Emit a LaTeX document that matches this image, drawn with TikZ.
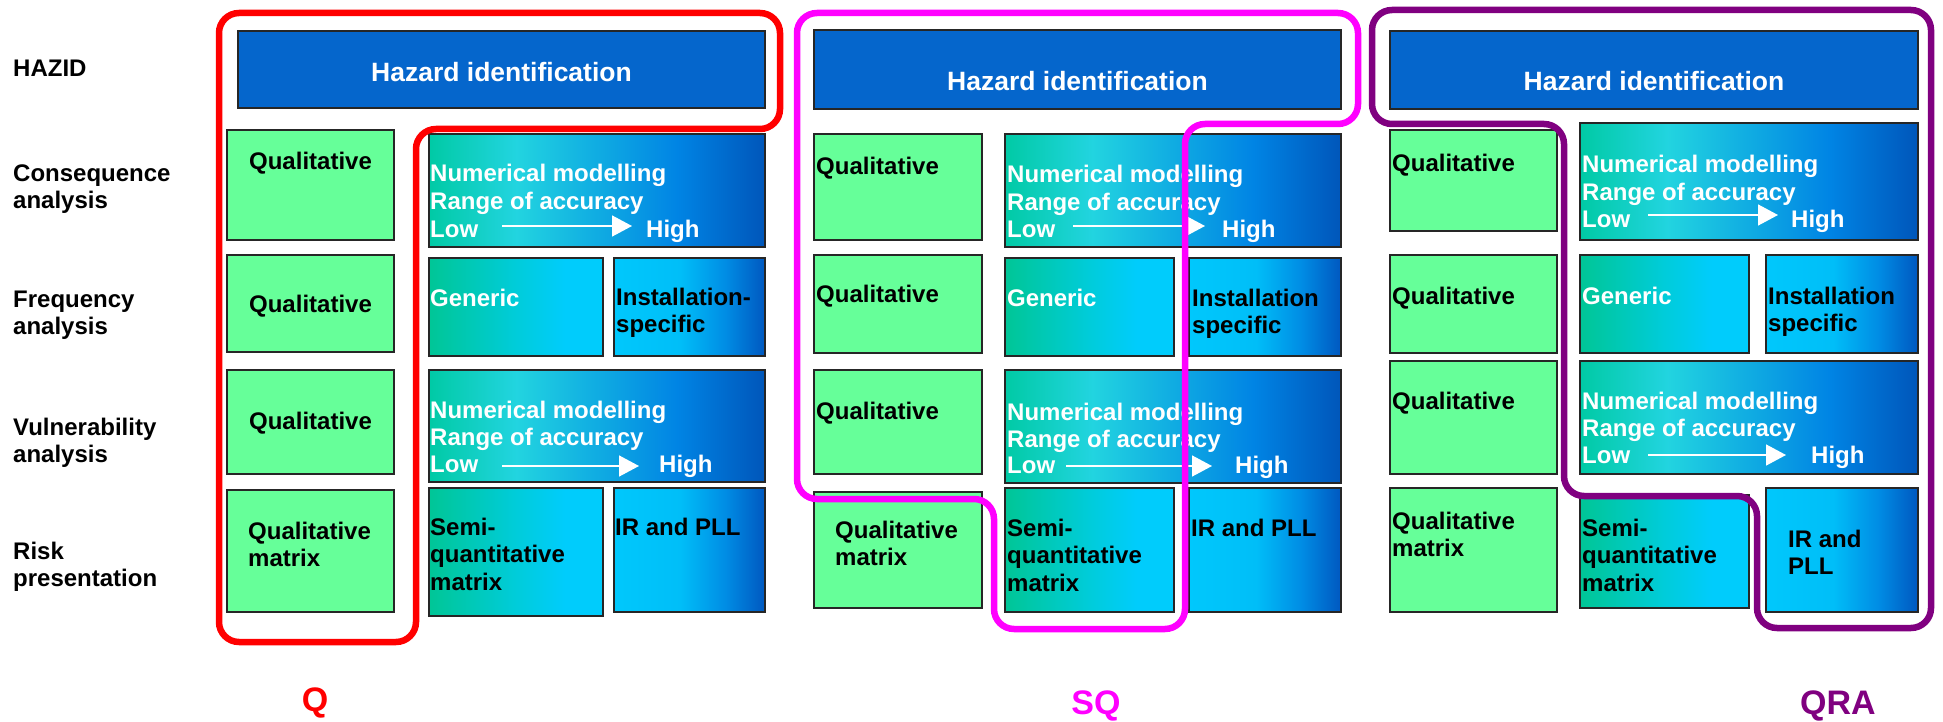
\documentclass[tikz,border=0pt]{standalone}
\usepackage{fontspec}
\setmainfont{Liberation Sans}
\usetikzlibrary{arrows.meta}
\definecolor{hazblue}{RGB}{5,102,204}
\definecolor{qgreen}{RGB}{102,255,153}
\definecolor{ngA}{RGB}{0,202,165}
\definecolor{ngB}{RGB}{34,212,224}
\definecolor{ngC}{RGB}{16,172,226}
\definecolor{ngD}{RGB}{0,132,228}
\definecolor{ngE}{RGB}{0,86,186}
\definecolor{ggA}{RGB}{0,198,150}
\definecolor{ggB}{RGB}{0,204,218}
\definecolor{ggC}{RGB}{0,204,252}
\definecolor{igA}{RGB}{0,200,252}
\definecolor{igB}{RGB}{0,190,248}
\definecolor{igC}{RGB}{0,140,228}
\definecolor{igD}{RGB}{0,88,192}
\definecolor{loopred}{RGB}{255,0,0}
\definecolor{loopmag}{RGB}{255,0,255}
\definecolor{looppur}{RGB}{128,0,128}
\pgfdeclarehorizontalshading{numgrad}{100bp}{color(0bp)=(ngA); color(25bp)=(ngA); color(38bp)=(ngB); color(50bp)=(ngC); color(62bp)=(ngD); color(75bp)=(ngE); color(100bp)=(ngE)}
\pgfdeclarehorizontalshading{gengrad}{100bp}{color(0bp)=(ggA); color(25bp)=(ggA); color(50bp)=(ggB); color(64bp)=(ggC); color(75bp)=(ggC); color(100bp)=(ggC)}
\pgfdeclarehorizontalshading{instgrad}{100bp}{color(0bp)=(igA); color(25bp)=(igA); color(47bp)=(igB); color(62bp)=(igC); color(75bp)=(igD); color(100bp)=(igD)}
\newcommand\twol[2]{\vtop{\hbox{#1}\hbox{#2}}}
\newcommand\threel[3]{\vtop{\hbox{#1}\hbox{#2}\hbox{#3}}}
\tikzset{
  boxline/.style={draw=black!85, line width=1.6pt},
  haz/.style={boxline, fill=hazblue},
  qual/.style={boxline, fill=qgreen},
  num/.style={boxline, shade, shading=numgrad},
  gen/.style={boxline, shade, shading=gengrad},
  inst/.style={boxline, shade, shading=instgrad},
  txt/.style={inner sep=0pt, anchor=base west, text=black, font=\fontsize{24}{27.5}\selectfont\bfseries},
  wtxt/.style={txt, text=white},
  ctxt/.style={txt, anchor=base},
  haztxt/.style={inner sep=0pt, anchor=base, text=white, font=\fontsize{26.5}{30}\selectfont\bfseries},
  rowlbl/.style={inner sep=0pt, anchor=base west, font=\fontsize{24}{27}\selectfont\bfseries},
  grplbl/.style={inner sep=0pt, anchor=base, font=\fontsize{34}{40}\selectfont\bfseries},
  lowhigh/.style={draw=white, line width=1.5pt, -{Triangle[length=20pt,width=21pt]}},
  loopline/.style={line width=6.5pt, rounded corners=20pt},
}
\begin{document}
\begin{tikzpicture}[x=1pt,y=-1pt]
\useasboundingbox[fill=white] (0,0) rectangle (1943,722);

% ---------- row labels ----------
\node[rowlbl] (lhazid) at (13,77) {HAZID};
\node[rowlbl] (lcons) at (13,182) {\twol{Consequence}{analysis}};
\node[rowlbl] (lfreq) at (13,307) {\twol{Frequency}{analysis}};
\node[rowlbl] (lvuln) at (13,435) {\twol{Vulnerability}{analysis}};
\node[rowlbl] (lrisk) at (13,559) {\twol{Risk}{presentation}};

% ---------- panel 1 (Q) ----------
\path[haz] (238,31) rectangle (765,108);
\path[qual] (227,130) rectangle (394,240);
\path[num] (429,134) rectangle (765,247);
\path[qual] (227,255) rectangle (394,352);
\path[gen] (429,258) rectangle (603,356);
\path[inst] (614,258) rectangle (765,356);
\path[qual] (227,370) rectangle (394,474);
\path[num] (429,370) rectangle (765,482);
\path[qual] (227,490) rectangle (394,612);
\path[gen] (429,488) rectangle (603,616);
\path[inst] (614,488) rectangle (765,612);

\node[haztxt] (aHaz) at (501.5,82) {Hazard identification};
\node[ctxt] (aQ1) at (310.5,170) {Qualitative};
\node[wtxt] (aN1) at (430,182) {\twol{Numerical modelling}{Range of accuracy}};
\node[wtxt] (aL1) at (430,237) {Low};
\node[wtxt] (aH1) at (646,237) {High};
\coordinate (aA1s) at (502,226);
\coordinate (aA1e) at (632,226);
\node[ctxt] (aQ2) at (310.5,312) {Qualitative};
\node[wtxt] (aGen) at (430,306) {Generic};
\node[txt] (aInst) at (616,305) {\twol{Installation-}{specific}};
\node[ctxt] (aQ3) at (310.5,429) {Qualitative};
\node[wtxt] (aN3) at (430,418) {\twol{Numerical modelling}{Range of accuracy}};
\node[wtxt] (aL3) at (430,472) {Low};
\node[wtxt] (aH3) at (659,472) {High};
\coordinate (aA3s) at (502,466);
\coordinate (aA3e) at (639,466);
\node[txt] (aQM) at (248,539) {\twol{Qualitative}{matrix}};
\node[txt] (aSemi) at (430,535) {\threel{Semi-}{quantitative}{matrix}};
\node[txt] (aIR) at (615,535) {IR and PLL};
\draw[lowhigh] (aA1s) -- (aA1e);
\draw[lowhigh] (aA3s) -- (aA3e);

% ---------- panel 2 (SQ) ----------
\path[haz] (814,30) rectangle (1341,109);
\path[qual] (814,134) rectangle (982,240);
\path[num] (1005,134) rectangle (1341,247);
\path[qual] (814,255) rectangle (982,353);
\path[gen] (1005,258) rectangle (1174,356);
\path[inst] (1189,258) rectangle (1341,356);
\path[qual] (814,370) rectangle (982,474);
\path[num] (1005,370) rectangle (1341,483);
\path[qual] (814,492) rectangle (982,608);
\path[gen] (1005,488) rectangle (1174,612);
\path[inst] (1189,488) rectangle (1341,612);

\node[haztxt] (bHaz) at (1077.5,91) {Hazard identification};
\node[txt] (bQ1) at (816,175) {Qualitative};
\node[wtxt] (bN1) at (1007,183) {\twol{Numerical modelling}{Range of accuracy}};
\node[wtxt] (bL1) at (1007,237) {Low};
\node[wtxt] (bH1) at (1222,237) {High};
\coordinate (bA1s) at (1073,226);
\coordinate (bA1e) at (1205,226);
\node[txt] (bQ2) at (816,302) {Qualitative};
\node[wtxt] (bGen) at (1007,306) {Generic};
\node[txt] (bInst) at (1192,306) {\twol{Installation}{specific}};
\node[txt] (bQ3) at (816,419) {Qualitative};
\node[wtxt] (bN3) at (1007,420) {\twol{Numerical modelling}{Range of accuracy}};
\node[wtxt] (bL3) at (1007,473) {Low};
\node[wtxt] (bH3) at (1235,473) {High};
\coordinate (bA3s) at (1066,466);
\coordinate (bA3e) at (1212,466);
\node[txt] (bQM) at (835,538) {\twol{Qualitative}{matrix}};
\node[txt] (bSemi) at (1007,536) {\threel{Semi-}{quantitative}{matrix}};
\node[txt] (bIR) at (1191,536) {IR and PLL};
\draw[lowhigh] (bA1s) -- (bA1e);
\draw[lowhigh] (bA3s) -- (bA3e);

% ---------- panel 3 (QRA) ----------
\path[haz] (1390,31) rectangle (1918,109);
\path[qual] (1390,130) rectangle (1557,231);
\path[num] (1580,123) rectangle (1918,240);
\path[qual] (1390,255) rectangle (1557,353);
\path[gen] (1580,255) rectangle (1749,353);
\path[inst] (1766,255) rectangle (1918,353);
\path[qual] (1390,361) rectangle (1557,474);
\path[num] (1580,361) rectangle (1918,474);
\path[qual] (1390,488) rectangle (1557,612);
\path[gen] (1580,495) rectangle (1749,608);
\path[inst] (1766,488) rectangle (1918,612);

\node[haztxt] (cHaz) at (1654,91) {Hazard identification};
\node[txt] (cQ1) at (1392,172) {Qualitative};
\node[wtxt] (cN1) at (1582,173) {\twol{Numerical modelling}{Range of accuracy}};
\node[wtxt] (cL1) at (1582,227) {Low};
\node[wtxt] (cH1) at (1791,227) {High};
\coordinate (cA1s) at (1648,215);
\coordinate (cA1e) at (1778,215);
\node[txt] (cQ2) at (1392,304) {Qualitative};
\node[wtxt] (cGen) at (1582,304) {Generic};
\node[txt] (cInst) at (1768,304) {\twol{Installation}{specific}};
\node[txt] (cQ3) at (1392,409) {Qualitative};
\node[wtxt] (cN3) at (1582,409) {\twol{Numerical modelling}{Range of accuracy}};
\node[wtxt] (cL3) at (1582,463) {Low};
\node[wtxt] (cH3) at (1811,463) {High};
\coordinate (cA3s) at (1648,455);
\coordinate (cA3e) at (1786,455);
\node[txt] (cQM) at (1392,529) {\twol{Qualitative}{matrix}};
\node[txt] (cSemi) at (1582,536) {\threel{Semi-}{quantitative}{matrix}};
\node[txt] (cIR) at (1788,547) {\twol{IR and}{PLL}};
\draw[lowhigh] (cA1s) -- (cA1e);
\draw[lowhigh] (cA3s) -- (cA3e);

% ---------- group outlines ----------
\draw[loopline, draw=loopred] (219,13) -- (780,13) -- (780,129) -- (416,129) -- (416,642) -- (219,642) -- cycle;
\draw[loopline, draw=loopmag] (797,13) -- (1358,13) -- (1358,124) -- (1185,124) -- (1185,629) -- (994,629) -- (994,499) -- (797,499) -- cycle;
\draw[loopline, draw=looppur] (1372,10) -- (1931,10) -- (1931,628) -- (1757,628) -- (1757,496) -- (1564,496) -- (1564,124) -- (1372,124) -- cycle;

% ---------- group labels ----------
\node[grplbl, text=loopred] (gQ) at (315,711) {Q};
\node[grplbl, text=loopmag] (gSQ) at (1096,714) {SQ};
\node[grplbl, text=looppur] (gQRA) at (1838,714) {QRA};
\end{tikzpicture}
\end{document}
